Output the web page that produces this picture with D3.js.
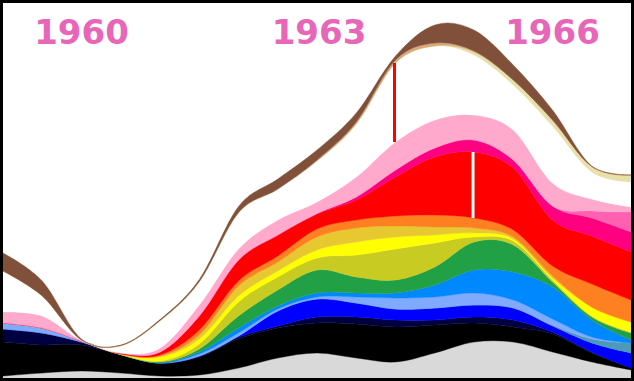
<!DOCTYPE html>
<html><head><meta charset="utf-8">
<script src="https://cdn.jsdelivr.net/npm/d3@7"></script>
<style>html,body{margin:0;padding:0;background:#fff;}svg{display:block;}</style>
</head><body>
<script>
const years = [1959,1959.5,1960,1960.5,1961,1961.5,1962,1962.5,1963,1963.5,1964,1964.5,1965,1965.5,1966,1966.5,1967];
const yearLabels = ["1960","1963","1966"];
const labelYears = [1960,1963,1966];

const layerNames = ["gray","black","navy","blue","teal","lightblue","dodger","green","yellowgreen","yellow","gold","orange","red","deeppink","hotpink","lightpink","white","khaki","tan","brown"];
const layerColors = ["#d9d9d9","#000000","#000040","#0000ff","#4a9ab8","#80aaff","#0088ff","#22a046","#c8cc22","#ffff00","#e8c830","#ff8020","#ff0000","#ff0080","#ff60b0","#ffaacc","#ffffff","#e8e0a8","#d8a878","#80503a"];

const gray       = [2,5,7,5,2,3,10,20,25,20,16,25,36,36,26,16,8];
const black      = [34,28,26,18,13,18,29,30,30,34,35,28,19,15,18,9,2];
const navy       = [13,12,3,0.5,0,0.5,2,2,6,7,7,5,6,7,2,1,0];
const blue       = [0,0,0,0,0,0.5,1,15,18,14,11,12,12,12,6,9,15];
const teal       = [0,0,0,0,0,0,0,0,0,0,0,0,0,0,1,4,10];
const lightblue  = [6,5,1,0,0,2,3,2,2,6,11,11,12,8,6,2,0];
const dodger     = [0,0,0,0,0.5,2,5,3,4,4,5,12,23,28,32,17,3];
const green      = [0,0,0,0,0.5,3,12,16,23,16,13,18,28,27,5,3,7];
const yellowgreen= [0,0,0,0,1,5,14,13,12,22,31,24,5,4,2,1,1];
const yellow     = [0,0,0,0.5,4,5,6,6,8,13,12,8,4,2,2,9,10];
const gold       = [0,0,0,0,1,4,10,9,13,14,11,8,5,2,2,0,0];
const orange     = [0,0,0,0,1,5,5,6,8,8,10,12,10,7,10,23,22];
const red        = [0,0,0,0.5,3,14,21,21,15,20,39,58,66,62,46,48,48];
const deeppink   = [0,0,0,0.5,0,0,0,0,0.5,3,7,9,12,8,14,18,20];
const hotpink    = [0,0,0,0,0,0,0,0,0,0,0,0,0,0,0,7,20];
const lightpink  = [11,12,0.5,0,4,11,11,15,11.5,20,28,28,25,30,23,12,5];
const white      = [41,20,0.5,7,27,23,36,31,41,53,79,74,60,45,57,27,25];
const khaki      = [0,0,0,0.5,0.5,0.5,0.5,0,0,0,0,0,3,5,6,5.5,7];
const tan        = [0,0,0,0,0,0,0,0,1,2,3,3,1,0,0,0,0];
const brown      = [18,15,1,0.5,1,2,6,10,10,9,4,18,21,15,10,0.5,0];

// annotation markers: [year, layer spanned, color]
const markerYears  = [1964, 1965];
const markerLayers = ["white", "red"];
const markerColors = ["#ff0000", "#ffffff"];

const series = {gray,black,navy,blue,teal,lightblue,dodger,green,yellowgreen,yellow,gold,orange,red,deeppink,hotpink,lightpink,white,khaki,tan,brown};
const rows = years.map((yr,i)=>{const r={year:yr}; layerNames.forEach(n=>r[n]=series[n][i]); return r;});

const W=634,H=381;
const svg = d3.select("body").append("svg").attr("width",W).attr("height",H);
svg.append("rect").attr("width",W).attr("height",H).attr("fill","#fff");

const x = d3.scaleLinear().domain([1959,1967]).range([3,631]);
const y = d3.scaleLinear().domain([0,375]).range([378,3]);

const stack = d3.stack().keys(layerNames)(rows);
const area = d3.area().x(d=>x(d.data.year)).y0(d=>y(d[0])).y1(d=>y(d[1])).curve(d3.curveCatmullRom.alpha(0));

svg.append("g").selectAll("path").data(stack).join("path")
  .attr("d",area)
  .attr("fill",(d,i)=>layerColors[i])
  .attr("stroke",(d,i)=>layerColors[i])
  .attr("stroke-width",0.4);

markerYears.forEach((yr,k)=>{
  const li = layerNames.indexOf(markerLayers[k]);
  const idx = years.indexOf(yr);
  const pt = stack[li][idx];
  svg.append("line").attr("x1",x(yr)-1).attr("x2",x(yr)-1)
    .attr("y1",y(pt[0])).attr("y2",y(pt[1]))
    .attr("stroke",markerColors[k]).attr("stroke-width",3);
});

svg.append("g").selectAll("text").data(yearLabels).join("text")
  .attr("x",(d,i)=>x(labelYears[i]) + (i===1?2:0))
  .attr("y",44)
  .attr("text-anchor","middle")
  .attr("font-family","DejaVu Sans, sans-serif")
  .attr("font-weight","bold")
  .attr("font-size",34)
  .attr("fill","#e866b8")
  .text(d=>d);

svg.append("rect").attr("x",1.5).attr("y",1.5).attr("width",W-3).attr("height",H-3)
  .attr("fill","none").attr("stroke","#000").attr("stroke-width",3);
</script>
</body></html>
